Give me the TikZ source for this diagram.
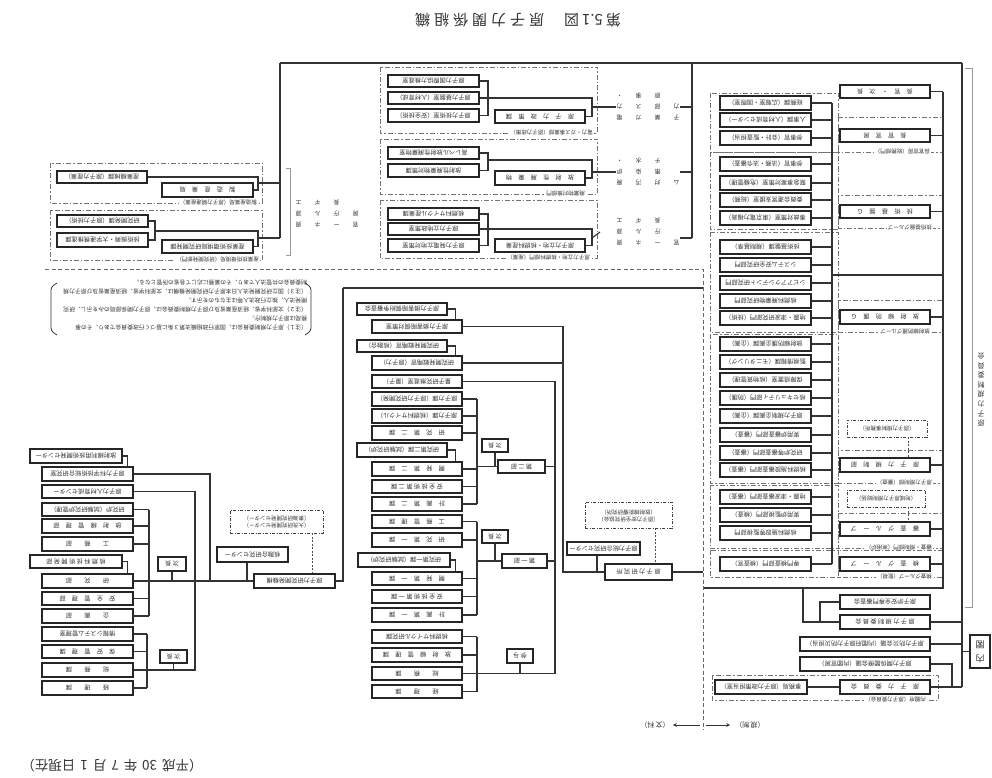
\documentclass[tikz,border=0pt]{standalone}
\usepackage{fontspec}
\newfontfamily\jp{Noto Sans CJK JP}
\usetikzlibrary{calc}
\newcommand\ud[1]{\rotatebox[origin=c]{180}{#1}}
\newcommand\tsp{\hspace{4pt}}
\newcommand\gridtab[1]{\begin{tabular}{@{}c@{\hspace{13pt}}c@{\hspace{13pt}}c@{\hspace{13pt}}c@{}}#1\end{tabular}}
\newcommand\vtab[1]{\begin{tabular}{@{}c@{}}#1\end{tabular}}
\tikzset{
 bx/.style={draw=black!85, line width=1.4pt, inner sep=0pt, text=black!80, font=\jp\fontsize{6.2}{7}\selectfont},
 dbx/.style={draw=black!75, line width=0.9pt, dash pattern=on 3pt off 1.5pt on 1pt off 1.5pt, inner sep=0pt, text=black!80, font=\jp\fontsize{5.5}{7}\selectfont},
 ln/.style={draw=black!80, line width=1.1pt},
 dl/.style={draw=black!70, line width=0.8pt, dash pattern=on 2pt off 1.5pt},
 dline/.style={draw=black!60, line width=1pt, dash pattern=on 4pt off 2.5pt},
 grp/.style={draw=black!55, line width=0.9pt, dash pattern=on 5pt off 2pt on 1.5pt off 2pt},
 glab/.style={fill=white, inner sep=1pt, text=black!80, font=\jp\fontsize{5.5}{6}\selectfont},
 txt/.style={inner sep=0pt, text=black!80},
 brk/.style={draw=black!40, line width=0.8pt},
}
\newcommand\Bx[6]{\pgfmathsetmacro\bw{#4-#2}\pgfmathsetmacro\bh{#5-#3}\pgfmathsetmacro\bxx{(#2+#4)/2}\pgfmathsetmacro\byy{(#3+#5)/2}\node[bx,minimum width=\bw pt,minimum height=\bh pt] (#1) at (\bxx,\byy) {\ud{#6}};}
\newcommand\DBx[6]{\pgfmathsetmacro\bw{#4-#2}\pgfmathsetmacro\bh{#5-#3}\pgfmathsetmacro\bxx{(#2+#4)/2}\pgfmathsetmacro\byy{(#3+#5)/2}\node[dbx,minimum width=\bw pt,minimum height=\bh pt] (#1) at (\bxx,\byy) {\ud{#6}};}
\newcommand\Gx[7]{\draw[grp] (#2,#3) rectangle (#4,#5); \node[glab,anchor=east] (#1) at (#6,#5) {\ud{#7}};}
\begin{document}
\begin{tikzpicture}[x=1pt,y=-1pt]
\useasboundingbox (0,0) rectangle (992,778);

% ---------- title and date ----------
\node[txt, font=\jp\fontsize{15}{16}\selectfont] (title) at (518,20) {\ud{第\hspace{3pt}5.1\hspace{3pt}図\hspace{20pt}原\tsp 子\tsp 力\tsp 関\tsp 係\tsp 組\tsp 織}};
\node[txt, font=\jp\fontsize{13.5}{15}\selectfont] (date) at (112,766) {\ud{（平成\hspace{5pt}30\hspace{5pt}年\hspace{5pt}7\hspace{5pt}月\hspace{5pt}1\hspace{5pt}日現在）}};

% ---------- groups ----------
\Gx{gt1}{380}{67}{597}{133}{594}{電力・ガス事業部（原子力政策）}
\Gx{gt2}{380}{139}{597}{194}{586}{廃棄物対策部門}
\Gx{gt3}{380}{200}{597}{258}{591}{原子力立地・核燃料部門（産業）}
\Gx{gla}{50}{163}{262}{203}{258}{製造産業局（原子力関連産業）}
\Gx{glb}{50}{210}{262}{260}{260}{産業技術環境局（研究開発部門）}
\draw[grp] (710,93) rectangle (838,152);
\draw[grp] (710,152) rectangle (838,229);
\draw[grp] (710,232) rectangle (838,332);
\draw[grp] (710,334) rectangle (838,483);
\draw[grp] (710,485) rectangle (838,548);
\draw[grp] (710,550) rectangle (838,577);
\Gx{gr1}{838}{117}{942}{152}{931}{長官官房（総務部門）}
\Gx{gr2}{838}{195}{942}{228}{933}{技術基盤グループ}
\Gx{gr3}{838}{300}{942}{332}{931}{放射線防護グループ}
\Gx{gr4}{838}{450}{942}{483}{933}{原子力規制部（審査）}
\Gx{gr5}{838}{513}{942}{548}{933}{審査・規制部門（実用炉）}
\Gx{gr6}{838}{550}{942}{577}{933}{検査グループ（監視）}
\Gx{gsg}{712}{675}{938}{700}{927}{内閣府（原子力委員会）}

% ---------- boxes: top middle ----------
\Bx{b1}{388}{75}{479}{87}{原子力国際協力推進室}
\Bx{b2}{388}{92}{479}{104}{原子力基盤室（人材育成）}
\Bx{b3}{388}{109}{479}{122}{原子力技術室（安全技術）}
\Bx{h1}{495}{110}{585}{123}{原　子　力　政　策　課}
\Bx{b4}{388}{147}{479}{159}{高レベル放射性廃棄物室}
\Bx{b5}{388}{164}{479}{177}{放射性廃棄物対策課}
\Bx{h2t}{495}{171}{585}{185}{放　射　性　廃　棄　物}
\Bx{b6}{388}{208}{479}{220}{核燃料サイクル産業課}
\Bx{b7}{388}{223}{479}{235}{原子力立地政策室}
\Bx{b8}{388}{239}{479}{252}{原子力発電立地対策室}
\Bx{h3}{495}{239}{585}{252}{原子力立地・核燃料産業}

% ---------- boxes: top left ----------
\Bx{A1}{57}{171}{147}{183}{産業機械課（原子力産業）}
\Bx{hA}{162}{183}{253}{197}{製　造　産　業　局}
\Bx{B1}{57}{215}{148}{227}{研究開発課（原子力技術）}
\Bx{B2}{57}{233}{148}{247}{技術振興・大学連携推進課}
\Bx{hB}{162}{240}{253}{253}{産業技術環境局研究開発課}

% ---------- vertical text labels ----------
\node[txt, font=\jp\fontsize{6}{11}\selectfont] (vL) at (327,214) {\ud{\gridtab{官&ー&ネ&資\\房&庁&ル&源\\&長&ギ&エ}}};
\node[txt, font=\jp\fontsize{6}{11}\selectfont] (T1) at (648,107) {\ud{\gridtab{子&業&ガ&電\\力&部&ス&力\\&原&事&・}}};
\node[txt, font=\jp\fontsize{6}{11}\selectfont] (T2) at (648,172) {\ud{\gridtab{ム&対&汚&廃\\&策&染&炉\\&チ&水&・}}};
\node[txt, font=\jp\fontsize{6}{11}\selectfont] (T3) at (648,232) {\ud{\gridtab{官&ー&ネ&資\\&庁&ル&源\\&長&ギ&エ}}};
\node[txt, font=\jp\fontsize{7}{9.6}\selectfont] (rl) at (981,389) {\ud{\vtab{原\\子\\力\\規\\制\\委\\員\\会}}};
\draw[brk] (965,68) -- (972,68) -- (972,607) -- (965,607);
\draw[brk] (286,168) -- (290,168) -- (290,255) -- (286,255);

% ---------- right frame ----------
\Bx{r1}{720}{96}{811}{110}{総務課（広報室・国際室）}
\Bx{r2}{720}{113}{811}{127}{人事課（人材育成センター）}
\Bx{r3}{720}{131}{811}{145}{参事官（会計・監査担当）}
\Bx{r4}{720}{157}{811}{171}{参事官（法務・法令審査）}
\Bx{r5}{720}{176}{811}{190}{緊急事案対策室（危機管理）}
\Bx{r6}{720}{193}{811}{207}{委員会運営支援室（総務）}
\Bx{r7}{720}{211}{811}{225}{事故対策室（東京電力福島）}
\Bx{r8}{720}{240}{811}{254}{技術基盤課（規制基準）}
\Bx{r9}{720}{258}{811}{272}{システム安全研究部門}
\Bx{r10}{720}{276}{811}{290}{シビアアクシデント研究部門}
\Bx{r11}{720}{294}{811}{308}{核燃料廃棄物研究部門}
\Bx{r12}{720}{311}{811}{325}{地震・津波研究部門（技術）}
\Bx{r13}{720}{337}{811}{351}{放射線防護企画課（企画）}
\Bx{r14}{720}{355}{811}{369}{監視情報課（モニタリング）}
\Bx{r15}{720}{373}{811}{387}{保障措置室（核物質管理）}
\Bx{r16}{720}{391}{811}{405}{核セキュリティ部門（防護）}
\Bx{r17}{720}{409}{811}{423}{原子力規制企画課（企画）}
\Bx{r18}{720}{428}{811}{442}{実用炉審査部門（審査）}
\Bx{r19}{720}{446}{811}{460}{研究炉等審査部門（審査）}
\Bx{r20}{720}{463}{811}{477}{核燃料施設審査部門（審査）}
\Bx{r21}{720}{490}{811}{504}{地震・津波審査部門（審査）}
\Bx{r22}{720}{508}{811}{522}{実用炉監視部門（検査）}
\Bx{r23}{720}{526}{811}{540}{核燃料施設等監視部門}
\Bx{r24}{720}{557}{811}{571}{専門検査部門（検査官）}
\Bx{rc0}{840}{85}{930}{98}{長　官　・　次　長}
\Bx{rc1}{840}{129}{930}{142}{長　官　官　房}
\Bx{rc2}{840}{205}{930}{218}{技　術　基　盤　Ｇ}
\Bx{rc3}{840}{310}{930}{324}{放　射　線　防　護　Ｇ}
\DBx{rcs1}{847}{420}{927}{437}{（原子力規制事務所）}
\Bx{rc4}{840}{458}{930}{472}{原　子　力　規　制　部}
\DBx{rcs2}{847}{490}{925}{507}{（地域原子力規制総括）}
\Bx{rc5}{840}{522}{930}{536}{審　査　グ　ル　ー　プ}
\Bx{rc6}{840}{557}{930}{571}{検　査　グ　ル　ー　プ}
\Bx{P1}{840}{595}{930}{609}{原子炉安全専門審査会}
\Bx{P2}{840}{615}{930}{629}{原 子 力 規 制 委 員 会}
\Bx{Q1}{800}{637}{930}{651}{原子力防災会議（内閣府原子力防災担当）}
\Bx{Q2}{800}{657}{930}{671}{原子力関係閣僚会議（内閣官房）}
\Bx{S1}{840}{680}{930}{694}{原　子　力　委　員　会}
\Bx{S2}{715}{680}{807}{694}{事務局（原子力政策担当室）}
\node[bx, minimum width=20pt, minimum height=33pt, font=\jp\fontsize{9}{14}\selectfont] (cab) at (980,651.5) {\ud{\vtab{内\\閣}}};

% ---------- center ----------
\Bx{d1}{357}{303}{447}{315}{原子力損害賠償紛争審査会}
\Bx{d2}{372}{320}{462}{333}{原子力損害賠償対策室}
\Bx{d3}{357}{340}{447}{352}{研究開発戦略官（核融合）}
\Bx{d4}{372}{356}{462}{370}{研究開発戦略官（原子力）}
\Bx{d5}{372}{375}{462}{388}{量子研究推進室（量子）}
\Bx{d6}{372}{392}{462}{406}{原子力課（原子力研究開発）}
\Bx{d7}{372}{409}{462}{423}{原子力課（核燃料サイクル）}
\Bx{d8}{372}{426}{462}{440}{研　究　第　二　課}
\Bx{d9}{357}{443}{447}{457}{研究第二課（試験研究炉）}
\Bx{d10}{372}{462}{462}{476}{開　発　第　二　課}
\Bx{d11}{372}{480}{462}{493}{安 全 技 術 第 二 課}
\Bx{cb}{372}{497}{462}{511}{計　画　第　二　課}
\Bx{cc}{372}{515}{462}{528}{工　務　管　理　課}
\Bx{cd}{372}{533}{462}{547}{研　究　第　一　課}
\Bx{ce}{358}{553}{450}{567}{研究第一課（試験研究炉）}
\Bx{cf}{372}{572}{462}{585}{開　発　第　一　課}
\Bx{cg}{372}{590}{462}{603}{安 全 技 術 第 一 課}
\Bx{ch}{372}{608}{462}{622}{計　画　第　一　課}
\Bx{ci}{372}{630}{462}{643}{核燃料サイクル研究課}
\Bx{cj}{372}{648}{462}{662}{放　射　線　管　理　課}
\Bx{ck}{372}{667}{462}{680}{総　　務　　課}
\Bx{cl}{372}{685}{462}{698}{経　　理　　課}
\Bx{sb1}{482}{439}{508}{452}{次 長}
\Bx{h2c}{498}{460}{545}{473}{第 二 部}
\Bx{sb2}{482}{530}{508}{543}{次 長}
\Bx{h1c}{502}{554}{547}{568}{第 一 部}
\Bx{sb3}{507}{649}{533}{663}{参 与}
\Bx{mh}{605}{564}{672}{580}{原 子 力 研 究 所}
\Bx{mb}{567}{542}{640}{555}{原子力総合研究センター}
\DBx{mdd}{585}{502}{672}{528}{\vtab{（原子力安全研究協会）\\（放射線影響研究所）}}

% ---------- left lower ----------
\Bx{e1}{30}{449}{122}{463}{放射線利用技術開発センター}
\Bx{e2}{42}{467}{133}{481}{原子力科学技術総合研究室}
\Bx{e3}{42}{485}{133}{498}{原子力人材育成センター}
\Bx{e4}{42}{503}{133}{516}{研究炉（試験研究炉管理）}
\Bx{e5}{42}{519}{133}{533}{放　射　線　管　理　部}
\Bx{e6}{42}{537}{133}{551}{工　　務　　部}
\Bx{e7}{30}{555}{122}{568}{核 燃 料 技 術 開 発 部}
\Bx{e8}{42}{574}{133}{588}{研　　究　　部}
\Bx{e9}{42}{592}{133}{605}{安　全　管　理　部}
\Bx{e10}{42}{609}{133}{623}{企　　画　　部}
\Bx{e11}{42}{627}{133}{641}{情報システム管理室}
\Bx{e12}{42}{645}{133}{658}{保　安　管　理　課}
\Bx{e13}{42}{663}{133}{677}{総　　務　　課}
\Bx{e14}{42}{681}{133}{695}{経　　理　　課}
\Bx{sL1}{158}{557}{186}{571}{次 長}
\Bx{sL2}{160}{650}{187}{663}{次 長}
\Bx{lb}{217}{547}{288}{562}{核融合研究センター}
\Bx{lh}{254}{574}{335}{588}{原子力研究開発機構}
\DBx{ldd}{230}{510}{323}{533}{\vtab{（大洗研究開発センター）\\（東海研究開発センター）}}

% ---------- note ----------
\node[txt, font=\jp\fontsize{5.8}{9}\selectfont] (note) at (182,305.5) {\ud{\parbox{250pt}{\raggedright
（注１）原子力規制委員会は、国家行政組織法第３条に基づく行政委員会であり、その事\\
務局は原子力規制庁。\\
（注２）文部科学省、経済産業省及び原子力規制委員会は、原子力関係部局のみを示し、研究\\
開発法人、独立行政法人等は主なものを示す。\\
（注３）国立研究開発法人日本原子力研究開発機構は、文部科学省、経済産業省及び原子力規\\
制委員会の共管法人であり、その業務に応じて各省の所管となる。}}};
\draw[ln, line width=0.8pt, rounded corners=3pt] (57,283) -- (51,287) -- (51,331) -- (57,335);
\draw[ln, line width=0.8pt, rounded corners=3pt] (305,283) -- (311,287) -- (311,331) -- (305,335);

% ---------- coordinates ----------
\coordinate (tl) at (280,63);
\coordinate (tr) at (962,63);
\coordinate (xA) at (258,0);
\coordinate (xB1) at (155,0);
\coordinate (x488) at (488,0);
\coordinate (x592) at (592,0);
\coordinate (x692) at (692,63);
\coordinate (x832) at (832,0);
\coordinate (x943) at (943,92);
\coordinate (x803) at (803,588);
\coordinate (x820) at (820,0);
\coordinate (x952) at (952,0);
\coordinate (x563) at (563,0);
\coordinate (x555) at (555,0);
\coordinate (x477) at (477,0);
\coordinate (x703) at (703,0);
\coordinate (x210) at (210,0);
\coordinate (x195) at (195,0);
\coordinate (x149) at (149,0);
\coordinate (x147) at (147,0);
\coordinate (ctl) at (343,288);
\coordinate (ctr) at (703,288);

% ---------- connectors: top ----------
\draw[ln] (tl) -- (tr);
\draw[ln] (tl) -- (280,238);
\draw[ln] (A1.east) -| (xA |- hA.east) -- (hA.east);
\draw[ln] (258,183) -- (280,183);
\draw[ln] (B1.east) -| (xB1 |- B2.east) -- (B2.east);
\draw[ln] (155,231) -- (258,231) |- (hB.east);
\draw[ln] (258,238) -- (280,238);

\draw[ln] (b1.east) -| (x488 |- b3.east) -- (b3.east);
\draw[ln] (b2.east) -| (x592 |- h1.east) -- (h1.east);
\draw[ln] (b4.east) -| (x488 |- b5.east) -- (b5.east);
\draw[ln] (488,160) -| (x592 |- h2t.east) -- (h2t.east);
\draw[ln] (b6.east) -| (x488 |- b8.east) -- (b8.east);
\draw[ln] (b7.east) -| (x592 |- h3.east) -- (h3.east);
\draw[ln] (592,107) -- (T1.west);
\draw[ln] (592,172) -- (T2.west);
\draw[ln] (592,238) -- (T3.west -| 600,238);
\draw[ln] (T1.east) -- (692,107);
\draw[ln] (T2.east) -- (692,172);
\draw[ln] (T3.east |- 600,238) -- (692,238);
\draw[ln] (x692) -- (692,238);

% ---------- connectors: right frame ----------
\draw[ln] (832,103) -- (832,564);
\foreach \n in {r1,r2,r3,r4,r5,r6,r7,r8,r9,r10,r11,r12,r13,r14,r15,r16,r17,r18,r19,r20,r21,r22,r23,r24}
  {\draw[ln] (\n.east) -- (\n.east -| x832);}
\draw[ln] (832,275) -- (943,275);
\draw[ln] (x943) -- (943,588) -- (703,588);
\foreach \n in {rc0,rc1,rc2,rc3,rc4,rc5,rc6}
  {\draw[ln] (\n.east) -- (\n.east -| x943);}
\draw[dl] ([xshift=-19pt]rcs1.south east) -- ([xshift=-19pt]rcs1.south east |- rc4.north);
\draw[dl] ([xshift=-17pt]rcs2.south east) -- ([xshift=-17pt]rcs2.south east |- rc5.north);
\draw[ln] (x803) |- (P2.west);
\draw[ln] (P1.west) -| (x820 |- P2.west);
\draw[ln] (P2.east) -- (P2.east -| tr);
\draw[ln] (Q1.east) -- (Q1.east -| tr);
\draw[ln] (S1.east) -- (S1.east -| tr);
\draw[ln] (Q2.east) -| (x952 |- S1.east);
\draw[ln] (S2.east) -- (S1.west);
\draw[ln] (tr) -- (tr |- S1.east);
\draw[ln] (cab.west) -- (cab.west -| tr);

% ---------- connectors: center ----------
\draw[ln] (ctl) -- (ctr);
\draw[ln] (ctl) |- (lh.east);
\draw[ln] (d1.east) -| ([xshift=-7pt]d2.north east);
\draw[ln] (d3.east) -| ([xshift=-7pt]d4.north east);
\draw[ln] (d9.east) -| ([xshift=-7pt]d10.north east);
\draw[ln] (ce.east) -| ([xshift=-7pt]cf.north east);
\draw[ln] (d2.east) -| (x563 |- mh.west) -- (mh.west);
\draw[ln] (d4.east) -- (d4.east -| x563);
\draw[ln] (d5.east) -| (x555 |- ck.east) -- (ck.east);
\draw[ln] (d6.east -| x477) -- (cb.east -| x477);
\foreach \n in {d6,d7,d8,d10,d11,cb} {\draw[ln] (\n.east) -- (\n.east -| x477);}
\draw[ln] (x477 |- h2c.west) -- (h2c.west);
\draw[ln] (h2c.east) -- (h2c.east -| x555);
\draw[ln] (sb1.south) -- (sb1.south |- h2c.west);
\draw[ln] (cc.east -| x477) -- (ch.east -| x477);
\foreach \n in {cc,cd,cf,cg,ch} {\draw[ln] (\n.east) -- (\n.east -| x477);}
\draw[ln] (x477 |- h1c.west) -- (h1c.west);
\draw[ln] (h1c.east) -- (h1c.east -| x555);
\draw[ln] (sb2.south) -- (sb2.south |- h1c.west);
\draw[ln] (ci.east -| x477) -- (cl.east -| x477);
\foreach \n in {ci,cj,cl} {\draw[ln] (\n.east) -- (\n.east -| x477);}
\draw[ln] (sb3.south) -- (sb3.south |- ck.east);
\draw[ln] ([xshift=-6.5pt]mb.south) -- ([xshift=-6.5pt]mb.south |- mh.west);
\draw[dl] ([xshift=26.5pt]mdd.south) -- ([xshift=26.5pt]mdd.south |- mh.north);
\draw[ln] (mh.east) -- (mh.east -| x703);

% ---------- connectors: left lower ----------
\draw[ln] (e1.east) -| ([xshift=-6pt]e2.north east);
\draw[ln] (e7.east) -| ([xshift=-6pt]e8.north east);
\draw[ln] (e2.east) -| (x210 |- lh.west);
\draw[ln] (e8.east) -- (lh.west);
\draw[ln] (e3.east) -| (x195 |- e13.east) -- (e13.east -| x147);
\draw[ln] (e4.east -| x149) -- (e10.east -| x149);
\foreach \n in {e4,e5,e6,e9,e10} {\draw[ln] (\n.east) -- (\n.east -| x149);}
\draw[ln] (e11.east -| x147) -- (e14.east -| x147);
\foreach \n in {e11,e12,e13,e14} {\draw[ln] (\n.east) -- (\n.east -| x147);}
\draw[ln] (sL1.south) -- (sL1.south |- lh.west);
\draw[ln] (sL2.south) -- (sL2.south |- e13.east);
\draw[ln] ([xshift=-5.5pt]lb.south) -- ([xshift=-5.5pt]lb.south |- lh.west);
\draw[dl] ([xshift=35.5pt]ldd.south) -- ([xshift=35.5pt]ldd.south |- lh.north);

% ---------- separator and legend ----------
\coordinate (sep1) at (45,269);
\coordinate (sep2) at (703,269);
\coordinate (sep3) at (703,730);
\draw[dline] (sep1) -- (sep2) -- (sep3);
\node[txt, font=\jp\fontsize{7}{8}\selectfont] (lgL) at (655,725) {\ud{（文\,科）}};
\node[txt, font=\jp\fontsize{7}{8}\selectfont] (lgR) at (750,725) {\ud{（規\,制）}};
\coordinate (lgc) at (703,725);
\draw[ln, line width=0.8pt, -stealth] ([xshift=-3pt]lgc) -- ([xshift=3pt]lgL.east);
\draw[ln, line width=0.8pt, -stealth] ([xshift=3pt]lgc) -- ([xshift=-5pt]lgR.west);
\end{tikzpicture}
\end{document}
